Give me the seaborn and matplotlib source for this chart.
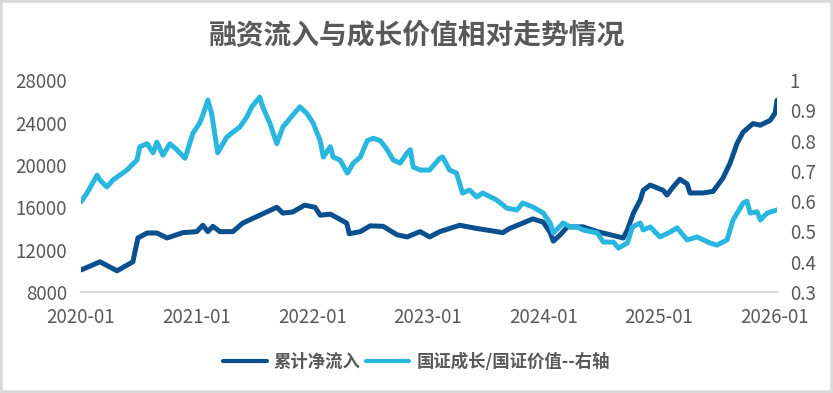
import pandas as pd
import numpy as np
import seaborn as sns
import matplotlib
matplotlib.use('Agg')
from matplotlib import pyplot as plt
import matplotlib.dates as mdates
from matplotlib.patches import Rectangle
from matplotlib.ticker import FuncFormatter, MultipleLocator

sns.set_style('white')
plt.rcParams['font.family'] = ['Noto Sans CJK SC', 'DejaVu Sans']

# 累计净流入 (left axis)
flow_dates = ['2020-01-01', '2020-03-01', '2020-04-24', '2020-06-13', '2020-06-29', '2020-07-28',
              '2020-08-28', '2020-09-29', '2020-11-18', '2021-01-01', '2021-01-20', '2021-02-05',
              '2021-02-21', '2021-03-15', '2021-04-25', '2021-05-26', '2021-07-19', '2021-09-11',
              '2021-09-30', '2021-10-31', '2021-12-08', '2022-01-10', '2022-01-26', '2022-02-27',
              '2022-03-21', '2022-04-20', '2022-04-28', '2022-06-02', '2022-07-03', '2022-08-13',
              '2022-09-26', '2022-10-28', '2022-11-29', '2022-12-08', '2023-01-07', '2023-02-08',
              '2023-04-12', '2023-06-05', '2023-08-07', '2023-08-26', '2023-09-17', '2023-10-28',
              '2023-11-29', '2024-01-01', '2024-01-23', '2024-02-02', '2024-02-24', '2024-03-17',
              '2024-05-06', '2024-06-20', '2024-07-31', '2024-09-10', '2024-09-23', '2024-10-12',
              '2024-11-03', '2024-11-12', '2024-12-04', '2025-01-14', '2025-01-26', '2025-02-14',
              '2025-03-08', '2025-03-31', '2025-04-09', '2025-05-20', '2025-06-21', '2025-07-22',
              '2025-08-14', '2025-09-05', '2025-09-24', '2025-10-25', '2025-11-17', '2025-12-18',
              '2026-01-03', '2026-01-09']
flow_values = [10080, 10850, 10000, 10850, 13100, 13570,
               13570, 13100, 13600, 13700, 14300, 13700,
               14200, 13700, 13700, 14500, 15250, 16000,
               15450, 15550, 16200, 16000, 15250, 15350,
               15000, 14500, 13500, 13700, 14250, 14200,
               13400, 13200, 13600, 13700, 13200, 13700,
               14300, 14000, 13700, 13600, 14000, 14500,
               14900, 14600, 13600, 12800, 13400, 14150,
               14150, 13700, 13400, 13100, 13860, 15450,
               16700, 17600, 18100, 17600, 17150, 17900,
               18650, 18200, 17350, 17350, 17500, 18750,
               20200, 22050, 23100, 23900, 23750, 24200,
               24900, 26100]

# 国证成长/国证价值 (right axis)
ratio_dates = ['2020-01-01', '2020-01-20', '2020-02-21', '2020-03-01', '2020-03-23', '2020-04-11',
               '2020-05-25', '2020-06-26', '2020-07-05', '2020-07-28', '2020-08-16', '2020-08-28',
               '2020-09-16', '2020-10-08', '2020-10-30', '2020-11-25', '2020-12-20', '2021-01-10',
               '2021-01-20', '2021-02-05', '2021-02-17', '2021-03-08', '2021-04-06', '2021-04-25',
               '2021-05-17', '2021-06-08', '2021-06-24', '2021-07-19', '2021-07-29', '2021-08-20',
               '2021-09-11', '2021-09-30', '2021-10-31', '2021-11-23', '2021-12-15', '2022-01-04',
               '2022-01-26', '2022-02-05', '2022-02-27', '2022-03-08', '2022-03-30', '2022-04-22',
               '2022-05-11', '2022-06-02', '2022-06-24', '2022-07-13', '2022-08-04', '2022-08-26',
               '2022-09-14', '2022-10-06', '2022-10-28', '2022-11-07', '2022-11-16', '2022-12-08',
               '2023-01-07', '2023-02-08', '2023-02-17', '2023-03-11', '2023-04-02', '2023-04-21',
               '2023-05-13', '2023-06-05', '2023-06-24', '2023-08-07', '2023-09-08', '2023-10-10',
               '2023-10-28', '2023-11-29', '2024-01-01', '2024-01-23', '2024-02-02', '2024-03-04',
               '2024-03-26', '2024-04-17', '2024-05-06', '2024-06-20', '2024-07-09', '2024-08-10',
               '2024-08-26', '2024-09-23', '2024-10-09', '2024-11-03', '2024-11-12', '2024-12-04',
               '2025-01-04', '2025-02-05', '2025-02-27', '2025-03-31', '2025-05-01', '2025-06-11',
               '2025-07-03', '2025-08-04', '2025-08-23', '2025-09-24', '2025-10-06', '2025-10-16',
               '2025-11-07', '2025-11-17', '2025-12-09', '2026-01-09']
ratio_values = [0.598, 0.627, 0.686, 0.670, 0.647, 0.670,
                0.703, 0.736, 0.780, 0.790, 0.760, 0.795,
                0.752, 0.790, 0.770, 0.742, 0.825, 0.858,
                0.884, 0.934, 0.890, 0.760, 0.812, 0.828,
                0.845, 0.878, 0.912, 0.944, 0.910, 0.858,
                0.790, 0.845, 0.884, 0.912, 0.890, 0.858,
                0.800, 0.746, 0.780, 0.746, 0.736, 0.693,
                0.726, 0.746, 0.800, 0.808, 0.800, 0.770,
                0.736, 0.726, 0.760, 0.770, 0.713, 0.703,
                0.703, 0.742, 0.746, 0.703, 0.693, 0.627,
                0.637, 0.614, 0.627, 0.604, 0.577, 0.571,
                0.594, 0.581, 0.561, 0.528, 0.495, 0.528,
                0.515, 0.515, 0.505, 0.495, 0.465, 0.465,
                0.445, 0.462, 0.515, 0.528, 0.505, 0.515,
                0.482, 0.498, 0.512, 0.472, 0.482, 0.462,
                0.455, 0.472, 0.538, 0.594, 0.600, 0.561,
                0.565, 0.538, 0.561, 0.571]

flow = pd.DataFrame({'date': pd.to_datetime(flow_dates), 'value': flow_values})
ratio = pd.DataFrame({'date': pd.to_datetime(ratio_dates), 'value': ratio_values})

dark = '#0a4f8e'
light = '#29b7df'
grey_txt = '#595959'
grey_line = '#d9d9d9'

fig = plt.figure(figsize=(8.33, 3.93), dpi=100)
ax = fig.add_axes([0.0972, 0.257, 0.836, 0.539])
ax2 = ax.twinx()

sns.lineplot(x='date', y='value', data=flow, ax=ax, color=dark, lw=3.6, label='累计净流入', legend=False)
sns.lineplot(x='date', y='value', data=ratio, ax=ax2, color=light, lw=3.6, label='国证成长/国证价值--右轴', legend=False)

ax.set_ylim(8000, 28000)
ax.yaxis.set_major_locator(MultipleLocator(4000))
ax2.set_ylim(0.3, 1.0)
ax2.yaxis.set_major_locator(MultipleLocator(0.1))
ax2.yaxis.set_major_formatter(FuncFormatter(lambda v, p: f'{round(v, 1):g}'))

ax.set_xlim(pd.Timestamp('2020-01-01'), pd.Timestamp('2026-01-10'))
ax.xaxis.set_major_locator(mdates.YearLocator())
ax.xaxis.set_major_formatter(mdates.DateFormatter('%Y-%m'))

for a in (ax, ax2):
    a.set_xlabel('')
    a.set_ylabel('')
    for s in ('top', 'left', 'right'):
        a.spines[s].set_visible(False)
    a.spines['bottom'].set_color(grey_line)
    a.spines['bottom'].set_linewidth(1.5)
    a.grid(False)

ax.tick_params(axis='x', colors=grey_line, length=6, width=1.2, labelcolor=grey_txt, labelsize=13.5, pad=5)
ax.tick_params(axis='y', length=0, labelcolor=grey_txt, labelsize=13.5, pad=10)
ax2.tick_params(axis='y', length=0, labelcolor=grey_txt, labelsize=13.5, pad=9)

fig.suptitle('融资流入与成长价值相对走势情况', x=0.5, y=0.945, fontsize=20, color=grey_txt, fontweight='bold')

h1, l1 = ax.get_legend_handles_labels()
h2, l2 = ax2.get_legend_handles_labels()
leg = fig.legend(h1 + h2, l1 + l2, loc='center', bbox_to_anchor=(0.5, 0.079), ncol=2, frameon=False,
                 fontsize=12.5, handlelength=2.5, handletextpad=0.4, columnspacing=0.3)
for t in leg.get_texts():
    t.set_color(grey_txt)
    t.set_fontweight('bold')
for ln in leg.get_lines():
    ln.set_linewidth(3)

fig.add_artist(Rectangle((0, 0), 1, 1, transform=fig.transFigure, fill=False, ec=grey_line, lw=4))

fig.savefig('out.png', dpi=100)
